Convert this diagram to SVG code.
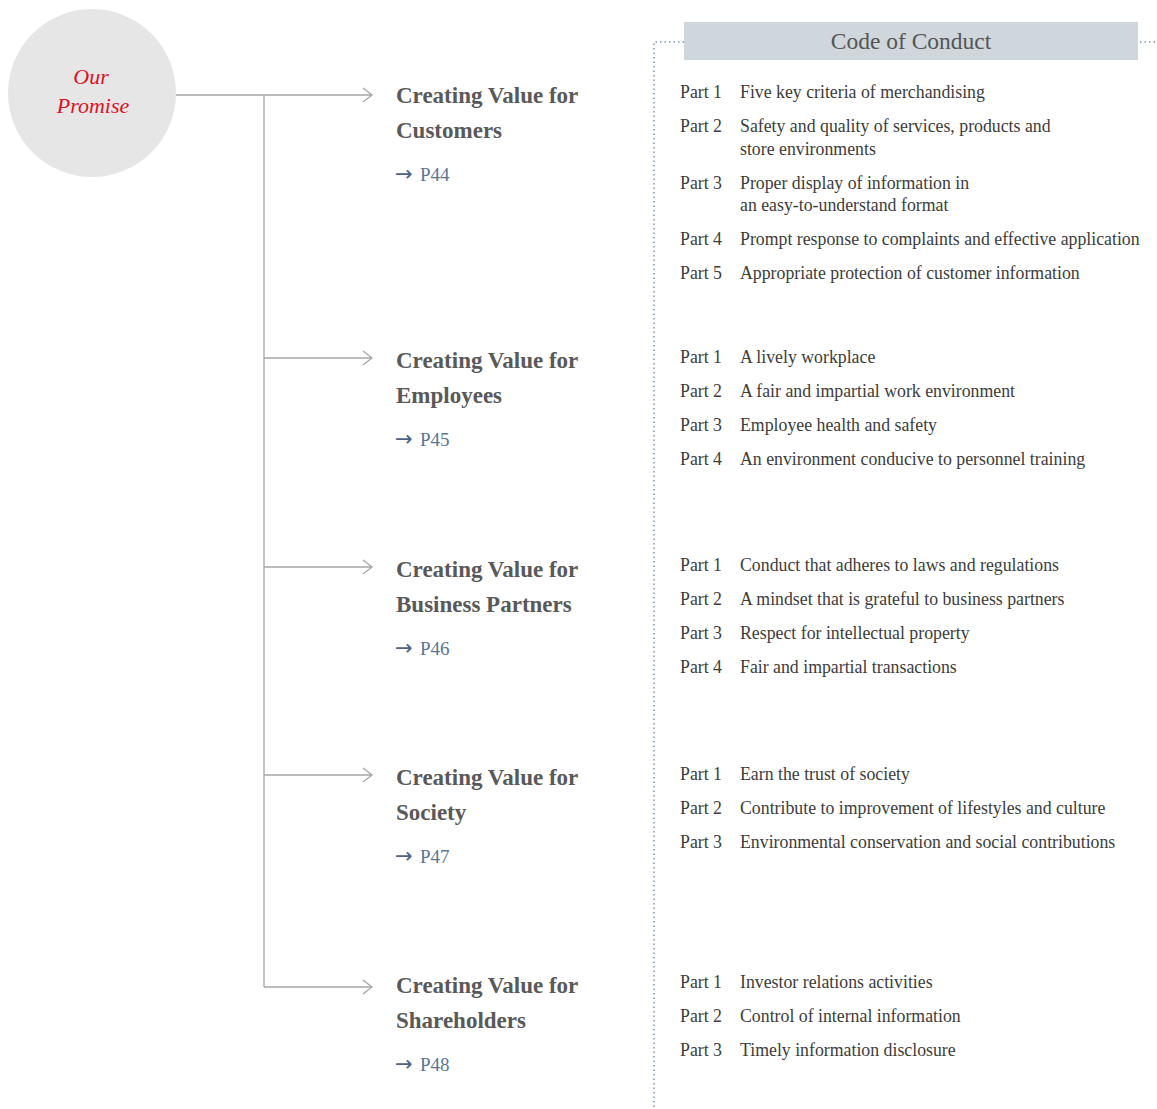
<svg xmlns="http://www.w3.org/2000/svg" width="1157" height="1109" viewBox="0 0 1157 1109">
<style>
.t{font-family:"Liberation Serif",serif;font-size:23px;font-weight:bold;fill:#595959}
.p{font-family:"Liberation Serif",serif;font-size:19px;fill:#5b7595}
.a{font-family:"DejaVu Sans",sans-serif;font-size:21px;fill:#4a6385}
.r{font-family:"Liberation Serif",serif;font-size:17.8px;fill:#3c3c3c}
.ln{stroke:#a6a6a6;stroke-width:1.3;fill:none}
.dot{stroke:#7f93ad;stroke-width:1.5;stroke-dasharray:1.5 3;fill:none}
</style>
<defs>
<marker id="chev" markerWidth="12" markerHeight="16" refX="10" refY="8" orient="auto" markerUnits="userSpaceOnUse">
<path d="M1,1 L10,8 L1,15" fill="none" stroke="#a6a6a6" stroke-width="1.3"/>
</marker>
</defs>
<g id="promise">
<circle cx="92" cy="93" r="84" fill="#e6e6e6"/>
<text x="91" y="84" text-anchor="middle" font-family="Liberation Serif,serif" font-style="italic" font-size="22" fill="#e0101e">Our</text>
<text x="93" y="113" text-anchor="middle" font-family="Liberation Serif,serif" font-style="italic" font-size="22" fill="#e0101e">Promise</text>
</g>
<g id="connectors">
<line class="ln" x1="176" y1="95" x2="372" y2="95" marker-end="url(#chev)"/>
<line class="ln" x1="264" y1="95" x2="264" y2="987"/>
<line class="ln" x1="264" y1="358" x2="372" y2="358" marker-end="url(#chev)"/>
<line class="ln" x1="264" y1="567" x2="372" y2="567" marker-end="url(#chev)"/>
<line class="ln" x1="264" y1="775" x2="372" y2="775" marker-end="url(#chev)"/>
<line class="ln" x1="264" y1="987" x2="372" y2="987" marker-end="url(#chev)"/>
</g>
<g id="customers">
<text class="t" x="396" y="103">Creating Value for</text>
<text class="t" x="396" y="138">Customers</text>
<text class="a" x="395" y="181">→</text><text class="p" x="420" y="181">P44</text>
</g>
<g id="employees">
<text class="t" x="396" y="368">Creating Value for</text>
<text class="t" x="396" y="403">Employees</text>
<text class="a" x="395" y="446">→</text><text class="p" x="420" y="446">P45</text>
</g>
<g id="partners">
<text class="t" x="396" y="577">Creating Value for</text>
<text class="t" x="396" y="612">Business Partners</text>
<text class="a" x="395" y="655">→</text><text class="p" x="420" y="655">P46</text>
</g>
<g id="society">
<text class="t" x="396" y="785">Creating Value for</text>
<text class="t" x="396" y="820">Society</text>
<text class="a" x="395" y="863">→</text><text class="p" x="420" y="863">P47</text>
</g>
<g id="shareholders">
<text class="t" x="396" y="993">Creating Value for</text>
<text class="t" x="396" y="1028">Shareholders</text>
<text class="a" x="395" y="1071">→</text><text class="p" x="420" y="1071">P48</text>
</g>
<g id="code-frame">
<path class="dot" d="M654,1107 L654,42 L684,42"/>
<line class="dot" x1="1140" y1="42" x2="1157" y2="42"/>
<rect x="684" y="22" width="454" height="38" fill="#cfd6dc"/>
<text x="911" y="49" text-anchor="middle" font-family="Liberation Serif,serif" font-size="23.5" fill="#555">Code of Conduct</text>
</g>
<g id="code-customers">
<text class="r" x="680" y="98">Part 1</text><text class="r" x="740" y="98">Five key criteria of merchandising</text>
<text class="r" x="680" y="132">Part 2</text><text class="r" x="740" y="132">Safety and quality of services, products and</text>
<text class="r" x="740" y="155">store environments</text>
<text class="r" x="680" y="189">Part 3</text><text class="r" x="740" y="189">Proper display of information in</text>
<text class="r" x="740" y="211">an easy-to-understand format</text>
<text class="r" x="680" y="245">Part 4</text><text class="r" x="740" y="245">Prompt response to complaints and effective application</text>
<text class="r" x="680" y="279">Part 5</text><text class="r" x="740" y="279">Appropriate protection of customer information</text>
</g>
<g id="code-employees">
<text class="r" x="680" y="363">Part 1</text><text class="r" x="740" y="363">A lively workplace</text>
<text class="r" x="680" y="397">Part 2</text><text class="r" x="740" y="397">A fair and impartial work environment</text>
<text class="r" x="680" y="431">Part 3</text><text class="r" x="740" y="431">Employee health and safety</text>
<text class="r" x="680" y="465">Part 4</text><text class="r" x="740" y="465">An environment conducive to personnel training</text>
</g>
<g id="code-partners">
<text class="r" x="680" y="571">Part 1</text><text class="r" x="740" y="571">Conduct that adheres to laws and regulations</text>
<text class="r" x="680" y="605">Part 2</text><text class="r" x="740" y="605">A mindset that is grateful to business partners</text>
<text class="r" x="680" y="639">Part 3</text><text class="r" x="740" y="639">Respect for intellectual property</text>
<text class="r" x="680" y="673">Part 4</text><text class="r" x="740" y="673">Fair and impartial transactions</text>
</g>
<g id="code-society">
<text class="r" x="680" y="780">Part 1</text><text class="r" x="740" y="780">Earn the trust of society</text>
<text class="r" x="680" y="814">Part 2</text><text class="r" x="740" y="814">Contribute to improvement of lifestyles and culture</text>
<text class="r" x="680" y="848">Part 3</text><text class="r" x="740" y="848">Environmental conservation and social contributions</text>
</g>
<g id="code-shareholders">
<text class="r" x="680" y="988">Part 1</text><text class="r" x="740" y="988">Investor relations activities</text>
<text class="r" x="680" y="1022">Part 2</text><text class="r" x="740" y="1022">Control of internal information</text>
<text class="r" x="680" y="1056">Part 3</text><text class="r" x="740" y="1056">Timely information disclosure</text>
</g>
</svg>
